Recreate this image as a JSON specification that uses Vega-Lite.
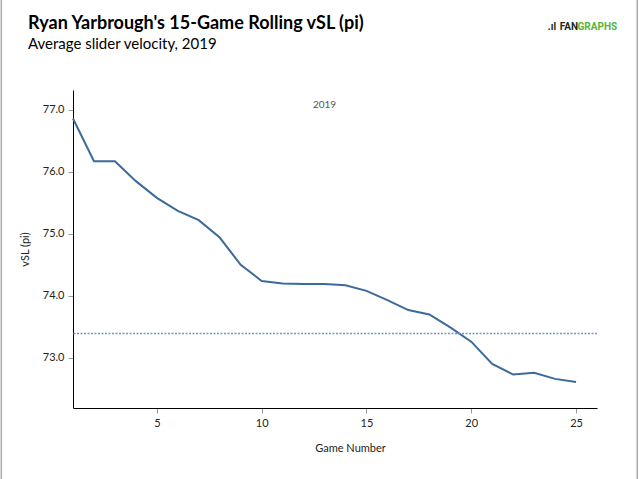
{
  "$schema": "https://vega.github.io/schema/vega-lite/v6.json",
  "width": 524,
  "height": 318,
  "autosize": "none",
  "padding": {"left": 73, "top": 90, "right": 42, "bottom": 71},
  "background": "white",
  "title": {
    "text": "Ryan Yarbrough's 15-Game Rolling vSL (pi)",
    "subtitle": "Average slider velocity, 2019",
    "anchor": "start",
    "frame": "group",
    "dx": -45,
    "offset": -53,
    "font": "Lato",
    "fontSize": 18,
    "fontWeight": "bold",
    "color": "black",
    "subtitleFont": "Lato",
    "subtitleFontSize": 15,
    "subtitleColor": "black",
    "subtitlePadding": 4
  },
  "config": {
    "view": {"stroke": null},
    "font": "Lato",
    "axis": {
      "grid": false,
      "domainColor": "black",
      "tickColor": "#999999",
      "labelColor": "#222222",
      "labelFontSize": 11,
      "titleFontSize": 11,
      "titleFontWeight": "normal",
      "titleColor": "#222222"
    }
  },
  "layer": [
    {
      "data": {
        "values": [
          {"game": 1, "vsl": 76.86},
          {"game": 2, "vsl": 76.17},
          {"game": 3, "vsl": 76.17},
          {"game": 4, "vsl": 75.85},
          {"game": 5, "vsl": 75.58},
          {"game": 6, "vsl": 75.37},
          {"game": 7, "vsl": 75.22},
          {"game": 8, "vsl": 74.94},
          {"game": 9, "vsl": 74.50},
          {"game": 10, "vsl": 74.24},
          {"game": 11, "vsl": 74.20},
          {"game": 12, "vsl": 74.19},
          {"game": 13, "vsl": 74.19},
          {"game": 14, "vsl": 74.17},
          {"game": 15, "vsl": 74.08},
          {"game": 16, "vsl": 73.93},
          {"game": 17, "vsl": 73.77},
          {"game": 18, "vsl": 73.70},
          {"game": 19, "vsl": 73.49},
          {"game": 20, "vsl": 73.26},
          {"game": 21, "vsl": 72.90},
          {"game": 22, "vsl": 72.73},
          {"game": 23, "vsl": 72.76},
          {"game": 24, "vsl": 72.66},
          {"game": 25, "vsl": 72.61}
        ]
      },
      "mark": {"type": "line", "color": "#3b6a9b", "strokeWidth": 2},
      "encoding": {
        "x": {
          "field": "game",
          "type": "quantitative",
          "title": "Game Number",
          "scale": {"domain": [1, 26], "nice": false, "zero": false},
          "axis": {"values": [5, 10, 15, 20, 25], "tickSize": 5, "labelPadding": 4, "titlePadding": 14, "titleX": 277}
        },
        "y": {
          "field": "vsl",
          "type": "quantitative",
          "title": "vSL (pi)",
          "scale": {"domain": [72.19, 77.32], "nice": false, "zero": false},
          "axis": {"values": [73, 74, 75, 76, 77], "format": ".1f", "tickSize": 5, "labelPadding": 4, "titlePadding": 12}
        }
      }
    },
    {
      "data": {"values": [{"avg": 73.39}]},
      "mark": {"type": "rule", "color": "#6f96c2", "strokeWidth": 1.5, "strokeDash": [2, 1.5]},
      "encoding": {"y": {"field": "avg", "type": "quantitative"}}
    },
    {
      "data": {"values": [{"game": 13, "vsl": 77.08, "label": "2019"}]},
      "mark": {"type": "text", "fontSize": 10, "color": "#555555", "align": "center", "baseline": "middle"},
      "encoding": {
        "x": {"field": "game", "type": "quantitative"},
        "y": {"field": "vsl", "type": "quantitative"},
        "text": {"field": "label"}
      }
    },
    {
      "data": {"values": [{"x": -2.42, "top": 78.77, "bottom": 71.03}, {"x": 27.92, "top": 78.77, "bottom": 71.03}]},
      "mark": {"type": "rule", "color": "#aaaaaa", "strokeWidth": 1.5, "clip": false},
      "encoding": {
        "x": {"field": "x", "type": "quantitative"},
        "y": {"field": "top", "type": "quantitative"},
        "y2": {"field": "bottom"}
      }
    },
    {
      "data": {"values": [{"x": 26.96, "y": 78.33}]},
      "layer": [
        {
          "mark": {"type": "text", "text": "GRAPHS", "font": "Roboto", "fontSize": 10, "fontWeight": "bold", "color": "#55b63a", "align": "right", "baseline": "middle", "clip": false}
        },
        {
          "mark": {"type": "text", "text": "FAN", "font": "Roboto", "fontSize": 10, "fontWeight": "bold", "color": "#1c2a1a", "align": "right", "baseline": "middle", "clip": false, "dx": -39}
        },
        {
          "mark": {"type": "text", "text": ".ıl", "font": "Roboto", "fontSize": 10, "fontWeight": "bold", "color": "#1c2a1a", "align": "right", "baseline": "middle", "clip": false, "dx": -61}
        }
      ],
      "encoding": {
        "x": {"field": "x", "type": "quantitative"},
        "y": {"field": "y", "type": "quantitative"}
      }
    }
  ]
}
